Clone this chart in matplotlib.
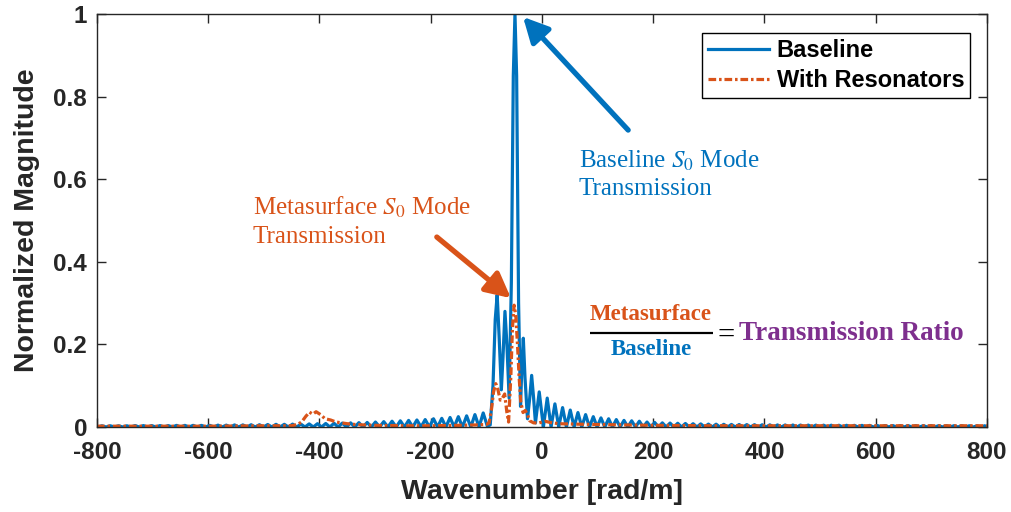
import numpy as np
import matplotlib
matplotlib.use("Agg")
import matplotlib.pyplot as plt

plt.rcParams["axes.unicode_minus"] = False
plt.rcParams["mathtext.fontset"] = "stix"

BLUE = "#0072BD"
ORANGE = "#D95319"
PURPLE = "#7E2F8E"
AXCOL = "#262626"

# Baseline spectrum: side-lobe peak heights left of the main packet (k = -791 ... -106)
left_peaks = [0.003, 0.003, 0.003, 0.003, 0.0035, 0.0035, 0.0035, 0.0035, 0.0035,
              0.004, 0.004, 0.004, 0.004, 0.004, 0.0045, 0.0045, 0.005, 0.005,
              0.0055, 0.0055, 0.006, 0.0065, 0.0065, 0.007, 0.007, 0.0075, 0.008,
              0.0085, 0.009, 0.0095, 0.010, 0.0105, 0.011, 0.012, 0.013, 0.014,
              0.015, 0.016, 0.017, 0.018, 0.020, 0.021, 0.023, 0.025, 0.027,
              0.030, 0.034]
left_spacing = 14.9

# main packet around k = -48 rad/m
center_k = [-98.2, -93, -88, -84, -80.5, -77, -73, -70, -66.5, -63, -59, -55,
            -51.5, -48.5, -45.5, -42, -38.5, -36, -33.5, -30.5, -26, -22,
            -18.5, -15, -11.7, -4.9]
center_val = [0.002, 0.005, 0.10, 0.26, 0.32, 0.22, 0.09, 0.17, 0.28, 0.20, 0.07,
              0.35, 0.85, 1.0, 0.85, 0.30, 0.05, 0.15, 0.215, 0.12, 0.02, 0.07,
              0.125, 0.07, 0.01, 0.085]

# side-lobe peak heights right of the packet (k = 9.5 ... 796)
right_peaks = [0.070, 0.056, 0.047, 0.041, 0.035, 0.030, 0.025, 0.022, 0.020,
               0.018, 0.016, 0.015, 0.014, 0.012, 0.011, 0.010, 0.0095, 0.009,
               0.0085, 0.008, 0.0075, 0.007, 0.0068, 0.0065, 0.0062, 0.006,
               0.0058, 0.0056, 0.0054, 0.0052, 0.005, 0.0049, 0.0048, 0.0047,
               0.0046, 0.0045, 0.0044, 0.0043, 0.0042, 0.0041, 0.004, 0.0039,
               0.0038, 0.0037, 0.0036, 0.0036, 0.0035, 0.0035, 0.0034, 0.0034,
               0.0033, 0.0033, 0.0032, 0.0032, 0.0031, 0.0031, 0.003, 0.003]
right_spacing = 13.8

# spectrum with resonators
res_k = [-800, -700, -600, -500, -450, -440, -432, -425, -418, -412, -406, -398,
         -390, -380, -370, -360, -350, -335, -320, -300, -250, -200, -150, -120,
         -100, -95, -91, -87, -83, -79, -75, -71, -67, -63, -60, -56, -53, -50,
         -47, -44, -41, -38, -34, -30, -26, -22, -15, -5, 5, 15, 30, 60, 100,
         150, 200, 300, 400, 500, 600, 700, 800]
res_val = [0.002, 0.002, 0.002, 0.003, 0.003, 0.006, 0.012, 0.025, 0.036, 0.031,
           0.037, 0.030, 0.020, 0.017, 0.012, 0.010, 0.008, 0.006, 0.005, 0.004,
           0.003, 0.003, 0.004, 0.005, 0.006, 0.010, 0.040, 0.085, 0.105, 0.090,
           0.065, 0.070, 0.080, 0.035, 0.012, 0.120, 0.240, 0.295, 0.270, 0.200,
           0.120, 0.060, 0.035, 0.040, 0.030, 0.015, 0.010, 0.010, 0.014, 0.011,
           0.008, 0.007, 0.006, 0.005, 0.004, 0.003, 0.003, 0.003, 0.003, 0.003,
           0.003]

xticks = [-800, -600, -400, -200, 0, 200, 400, 600, 800]
yticks = [0, 0.2, 0.4, 0.6, 0.8, 1]
ytick_labels = ["0", "0.2", "0.4", "0.6", "0.8", "1"]

# assemble the baseline curve: lobes with zeros in between
left_k = -105.6 - left_spacing * np.arange(len(left_peaks) - 1, -1, -1)
right_k = 9.5 + right_spacing * np.arange(len(right_peaks))

base_k = [-800.0]
base_val = [0.0]
for k, v in zip(left_k, left_peaks):
    base_k += [k - left_spacing / 2, k]
    base_val += [0.0, v]
base_k += center_k
base_val += center_val
for k, v in zip(right_k, right_peaks):
    base_k += [k - right_spacing / 2, k]
    base_val += [0.0, v]
base_k.append(800.0)
base_val.append(0.0)

fig = plt.figure(figsize=(10.11, 5.12), dpi=100)
ax = fig.add_axes([0.0959, 0.166, 0.8803, 0.8066])

ax.plot(base_k, base_val, color=BLUE, lw=2.3, label="Baseline")
ax.plot(res_k, res_val, color=ORANGE, lw=2.3, dashes=(2.4, 0.9, 0.8, 0.9),
        label="With Resonators")

ax.set_xlim(-800, 800)
ax.set_ylim(0, 1)
ax.set_xticks(xticks)
ax.set_yticks(yticks)
ax.set_yticklabels(ytick_labels)

for s in ax.spines.values():
    s.set_color(AXCOL)
    s.set_linewidth(1.0)
ax.tick_params(direction="in", length=6.5, width=1.0, colors=AXCOL,
               top=True, right=True, labelsize=17.5)
ax.tick_params(axis="y", pad=7)
ax.tick_params(axis="x", pad=10)
for lab in ax.get_xticklabels() + ax.get_yticklabels():
    lab.set_fontfamily("Liberation Sans")
    lab.set_fontweight("bold")

ax.set_xlabel("Wavenumber [rad/m]", fontsize=20.5, fontweight="bold",
              family="Liberation Sans", color=AXCOL, labelpad=11)
ax.set_ylabel("Normalized Magnitude", fontsize=20.5, fontweight="bold",
              family="Liberation Sans", color=AXCOL, labelpad=10)

leg = ax.legend(loc="upper right", bbox_to_anchor=(0.981, 0.954), borderaxespad=0,
                fancybox=False, framealpha=1, edgecolor="black",
                prop={"family": "Liberation Sans", "weight": "bold", "size": 17},
                handlelength=2.6, handletextpad=0.3, borderpad=0.25,
                labelspacing=0.3)
leg.get_frame().set_linewidth(1.0)

serif = "Liberation Serif"

# annotations
ax.text(66.5, 0.627, "Baseline $S_0$ Mode", color=BLUE, fontsize=18,
        family=serif, va="baseline")
ax.text(66.5, 0.562, "Transmission", color=BLUE, fontsize=18, family=serif,
        va="baseline")
ax.annotate("", xy=(-34, 0.993), xytext=(155, 0.719),
            arrowprops=dict(arrowstyle="-|>,head_length=0.75,head_width=0.38",
                            color=BLUE, lw=3.8, shrinkA=0, shrinkB=0,
                            mutation_scale=20))

ax.text(-519.6, 0.513, "Metasurface $S_0$ Mode", color=ORANGE, fontsize=18,
        family=serif, va="baseline")
ax.text(-519.6, 0.4455, "Transmission", color=ORANGE, fontsize=18, family=serif,
        va="baseline")
ax.annotate("", xy=(-55.7, 0.312), xytext=(-189, 0.46),
            arrowprops=dict(arrowstyle="-|>,head_length=0.75,head_width=0.38",
                            color=ORANGE, lw=3.8, shrinkA=0, shrinkB=0,
                            mutation_scale=20))

# ratio expression
ax.text(196, 0.259, "Metasurface", color=ORANGE, fontsize=16.5, family=serif,
        fontweight="bold", ha="center", va="baseline")
ax.text(196, 0.174, "Baseline", color=BLUE, fontsize=16.5, family=serif,
        fontweight="bold", ha="center", va="baseline")
ax.plot([86, 307], [0.2276, 0.2276], color="black", lw=1.6, solid_capstyle="butt")
ax.text(315, 0.2276, "=", color="black", fontsize=22, family=serif,
        ha="left", va="center_baseline")
ax.text(355, 0.21, "Transmission Ratio", color=PURPLE, fontsize=19.5,
        family=serif, fontweight="bold", ha="left", va="baseline")

fig.savefig("out.png", dpi=100)
